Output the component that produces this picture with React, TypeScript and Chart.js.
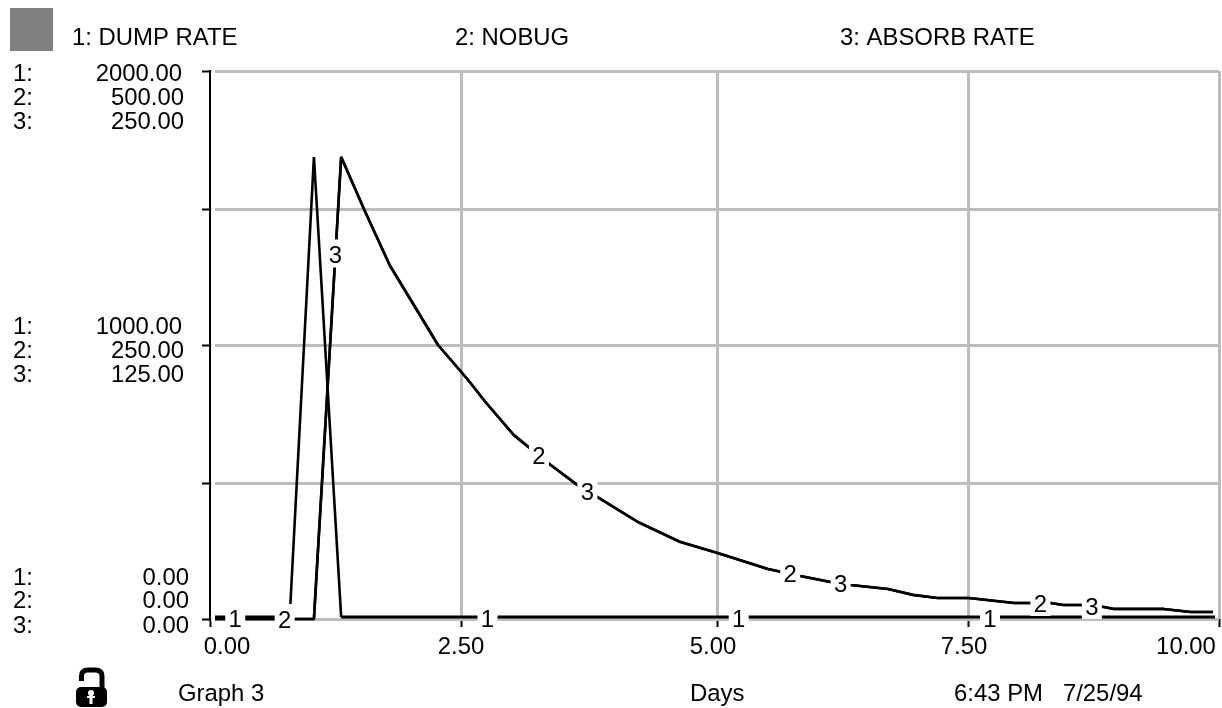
import React, { useEffect, useRef } from "react";
import { Chart, registerables } from "chart.js";

Chart.register(...registerables);

// Series values
const seriesNames = ["DUMP RATE", "NOBUG", "ABSORB RATE"];
const dumpDays = [0.05, 0.79, 1.03, 1.3, 9.96];
const dumpRate = [0, 0, 1679, 0, 0];
const curveDays = [0.05, 1.03, 1.3, 1.53, 1.78, 2.26, 2.55, 2.73, 3.01, 3.35, 3.64, 3.87, 4.24, 4.66, 5.03, 5.53, 5.85, 6.15, 6.35, 6.72, 6.97, 7.21, 7.52, 7.97, 8.13, 8.33, 8.46, 8.63, 8.86, 8.96, 9.45, 9.72, 9.94];
const nobug = [0, 0, 421.5, 373.2, 323, 250, 219, 198, 167.9, 142.3, 122.3, 109.5, 88.5, 70.3, 60.2, 45.6, 39.2, 33.8, 31, 27.4, 21.9, 19.2, 19.2, 14.6, 14.6, 14.6, 12.8, 12.8, 10.9, 9.1, 9.1, 6.4, 6.4];
const absorbRate = [0, 0, 210.8, 186.6, 161.5, 125, 109.5, 99, 84, 71.2, 61.2, 54.8, 44.3, 35.2, 30.1, 22.8, 19.6, 16.9, 15.5, 13.7, 11, 9.6, 9.6, 7.3, 7.3, 7.3, 6.4, 6.4, 5.5, 4.6, 4.6, 3.2, 3.2];

// Axis ticks and labels
const xGridValues = [0, 2.49, 5.03, 7.52, 10];
const xTickLabels = ["0.00", "2.50", "5.00", "7.50", "10.00"];
const yGridValues = [0, 494, 998, 1494, 2000];
const axisTop = ["2000.00", "500.00", "250.00"];
const axisMiddle = ["1000.00", "250.00", "125.00"];
const axisBottom = ["0.00", "0.00", "0.00"];
const axisMax = [2000, 500, 250];

// Where the numbered markers sit along each line (days)
const markerDays = [
  [0.25, 2.75, 5.24, 7.73],
  [0.74, 3.26, 5.75, 8.23],
  [1.243, 3.74, 6.25, 8.74],
];

const footer = ["Graph 3", "Days", "6:43 PM   7/25/94"];

const FONT = '23.9px "Liberation Sans", Arial, sans-serif';
const GRID = "#bdbdbd";

const zip = (xs: number[], ys: number[]) => xs.map((x, i) => ({ x, y: ys[i] }));

const interpolate = (xs: number[], ys: number[], t: number) => {
  for (let i = 1; i < xs.length; i++) {
    if (t <= xs[i]) {
      const f = (t - xs[i - 1]) / (xs[i] - xs[i - 1]);
      return ys[i - 1] + f * (ys[i] - ys[i - 1]);
    }
  }
  return ys[ys.length - 1];
};

const decorations = {
  id: "decorations",
  beforeDatasetsDraw(chart: any) {
    const { ctx, chartArea } = chart;
    // Horizontal rules begin a little to the right of the axis
    ctx.save();
    ctx.fillStyle = "#fff";
    ctx.fillRect(chartArea.left + 1.5, chartArea.top - 3, 3.5, chartArea.bottom - chartArea.top + 6);
    ctx.restore();
  },
  beforeDatasetDraw(chart: any, args: any) {
    if (args.index === 0) {
      chart.ctx.save();
      chart.ctx.translate(0, -2);
    }
  },
  afterDatasetDraw(chart: any, args: any) {
    if (args.index === 0) chart.ctx.restore();
  },
  afterDatasetsDraw(chart: any) {
    const { ctx, scales } = chart;
    const xScale = scales.x;
    ctx.save();
    ctx.font = FONT;
    ctx.fillStyle = "#000";
    ctx.textBaseline = "middle";

    // Numbered markers on the lines
    const lines = [
      { xs: dumpDays, ys: dumpRate, axis: scales.y, shift: -1 },
      { xs: curveDays, ys: nobug, axis: scales.y2, shift: 0 },
      { xs: curveDays, ys: absorbRate, axis: scales.y3, shift: 0 },
    ];
    lines.forEach((line, s) => {
      markerDays[s].forEach((t) => {
        const px = xScale.getPixelForValue(t);
        const py = line.axis.getPixelForValue(interpolate(line.xs, line.ys, t)) + line.shift;
        ctx.fillStyle = "#fff";
        ctx.fillRect(px - 10, py - 15, 20, 28);
        ctx.fillStyle = "#000";
        ctx.textAlign = "center";
        ctx.fillText(String(s + 1), px, py + 2);
      });
    });

    // Top legend row
    ctx.textAlign = "left";
    const legendX = [72, 455, 840];
    seriesNames.forEach((name, i) => ctx.fillText(`${i + 1}: ${name}`, legendX[i], 38.5));

    // Three-axis label columns
    const yS = scales.y;
    const groups = [
      { rows: axisTop, value: axisMax[0], dy: [3, 27, 51], right: [182, 184, 184] },
      { rows: axisMiddle, value: axisMax[0] / 2, dy: [-18, 6, 30], right: [182, 184, 184] },
      { rows: axisBottom, value: 0, dy: [-41, -18, 7], right: [189, 189, 189] },
    ];
    groups.forEach((g) => {
      const base = yS.getPixelForValue(g.value);
      g.rows.forEach((txt, i) => {
        ctx.textAlign = "left";
        ctx.fillText(`${i + 1}:`, 13, base + g.dy[i]);
        ctx.textAlign = "right";
        ctx.fillText(txt, g.right[i], base + g.dy[i]);
      });
    });

    // X tick labels
    const xCentre = [227, 461, 713, 964, 1186];
    ctx.textAlign = "center";
    xTickLabels.forEach((txt, i) => ctx.fillText(txt, xCentre[i], 647));

    // Footer
    ctx.textAlign = "left";
    const footerX = [178, 690, 954];
    footer.forEach((txt, i) => ctx.fillText(txt, footerX[i], 694));

    // Grey box, top left
    ctx.fillStyle = "#808080";
    ctx.fillRect(10, 8, 43, 43);

    // Open padlock icon
    ctx.fillStyle = "#000";
    ctx.beginPath();
    ctx.roundRect(76, 687, 31, 20, 5);
    ctx.fill();
    ctx.strokeStyle = "#000";
    ctx.lineWidth = 5;
    ctx.beginPath();
    ctx.moveTo(81.5, 681);
    ctx.lineTo(81.5, 676);
    ctx.quadraticCurveTo(81.5, 670, 88, 670);
    ctx.lineTo(95, 670);
    ctx.quadraticCurveTo(102, 670, 102, 676);
    ctx.lineTo(102, 689);
    ctx.stroke();
    ctx.fillStyle = "#fff";
    ctx.beginPath();
    ctx.arc(91, 693, 3, 0, Math.PI * 2);
    ctx.fill();
    ctx.fillRect(89.5, 693, 3, 11);
    ctx.fillRect(87, 696, 8, 2);
    ctx.restore();
  },
};

export default function App() {
  const ref = useRef<HTMLCanvasElement | null>(null);
  useEffect(() => {
    if (!ref.current) return;
    const lineStyle = {
      borderColor: "#000",
      borderWidth: 2.6,
      pointRadius: 0,
      tension: 0,
      fill: false,
      clip: false as any,
      borderJoinStyle: "bevel" as const,
    };
    const hidden = { display: false, min: 0 };
    const chart = new Chart(ref.current, {
      type: "line",
      data: {
        datasets: [
          {
            label: seriesNames[0],
            data: zip(dumpDays, dumpRate),
            yAxisID: "y",
            ...lineStyle,
            segment: {
              borderWidth: (c: any) => (c.p0.parsed.y === 0 && c.p1.parsed.y === 0 ? 3.2 : 2.6),
            },
          },
          { label: seriesNames[1], data: zip(curveDays, nobug), yAxisID: "y2", ...lineStyle },
          { label: seriesNames[2], data: zip(curveDays, absorbRate), yAxisID: "y3", ...lineStyle },
        ],
      },
      options: {
        responsive: false,
        animation: false,
        layout: { padding: { top: 71, right: 3, left: 0, bottom: 0 } },
        plugins: { legend: { display: false }, title: { display: false }, tooltip: { enabled: false } },
        scales: {
          x: {
            type: "linear",
            min: 0,
            max: 10,
            afterBuildTicks: (s: any) => {
              s.ticks = xGridValues.map((value) => ({ value }));
            },
            afterFit: (s: any) => {
              s.height = 89;
            },
            ticks: { display: false },
            border: { display: false },
            grid: {
              color: (c: any) => (c.tick && c.tick.value === 0 ? "rgba(0,0,0,0)" : GRID),
              lineWidth: 3,
              tickColor: "#000",
              tickWidth: 2,
              tickLength: 8,
            },
          },
          y: {
            min: 0,
            max: axisMax[0],
            afterBuildTicks: (s: any) => {
              s.ticks = yGridValues.map((value) => ({ value }));
            },
            afterFit: (s: any) => {
              s.width = 210;
            },
            ticks: { display: false },
            border: { color: "#000", width: 2 },
            grid: { color: GRID, lineWidth: 3, tickColor: "#000", tickWidth: 2, tickLength: 8 },
          },
          y2: { ...hidden, max: axisMax[1] },
          y3: { ...hidden, max: axisMax[2] },
        },
      } as any,
      plugins: [decorations],
    });
    return () => chart.destroy();
  }, []);
  return (
    <canvas
      ref={ref}
      width={1222}
      height={708}
      style={{ position: "fixed", left: 0, top: 0, display: "block", width: 1222, height: 708 }}
    />
  );
}
